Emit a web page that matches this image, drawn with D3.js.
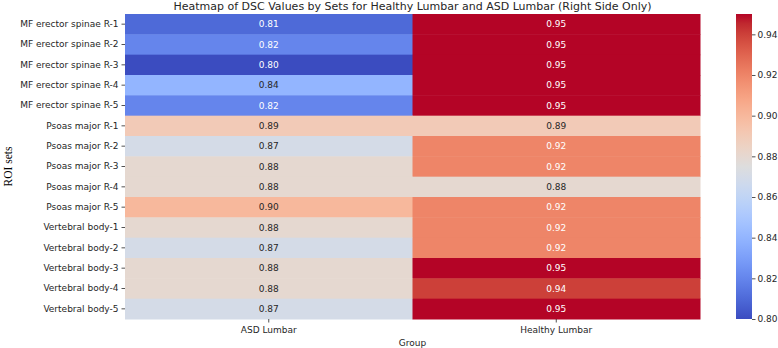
<!DOCTYPE html>
<html>
<head>
<meta charset="utf-8">
<script src="https://cdn.jsdelivr.net/npm/d3@7"></script>
<style>
  body { margin: 0; background: #fff; }
  svg text { font-family: "DejaVu Sans", sans-serif; fill: #262626; }
</style>
</head>
<body>
<div id="chart"></div>
<script>
// ---- data ----
const rowLabels = [
    "MF erector spinae R-1", "MF erector spinae R-2", "MF erector spinae R-3",
    "MF erector spinae R-4", "MF erector spinae R-5",
    "Psoas major R-1", "Psoas major R-2", "Psoas major R-3", "Psoas major R-4", "Psoas major R-5",
    "Vertebral body-1", "Vertebral body-2", "Vertebral body-3", "Vertebral body-4", "Vertebral body-5"
];
const groups = ["ASD Lumbar", "Healthy Lumbar"];
const asdValues = [0.81, 0.82, 0.80, 0.84, 0.82, 0.89, 0.87, 0.88, 0.88, 0.90, 0.88, 0.87, 0.88, 0.88, 0.87];
const healthyValues = [0.95, 0.95, 0.95, 0.95, 0.95, 0.89, 0.92, 0.92, 0.88, 0.92, 0.92, 0.92, 0.95, 0.94, 0.95];
const colorbarTicks = [0.80, 0.82, 0.84, 0.86, 0.88, 0.90, 0.92, 0.94];

// matplotlib "coolwarm" (Moreland) control points
const coolwarm = [
    [59,76,192],[68,90,204],[77,104,215],[87,117,225],[98,130,234],[108,142,241],
    [119,154,247],[130,165,251],[141,176,254],[152,185,255],[163,194,255],[174,201,253],
    [184,208,249],[194,213,244],[204,217,238],[213,219,230],[221,221,221],[229,216,209],
    [236,211,197],[241,204,185],[245,196,173],[247,187,160],[247,177,148],[247,166,135],
    [244,154,123],[241,141,111],[236,127,99],[229,112,88],[222,96,77],[213,80,66],
    [203,62,56],[192,40,47],[180,4,38]
];

const width = 778, height = 348;
const margin = {top: 14, right: 78, bottom: 29, left: 125};
const vmin = 0.80, vmax = 0.95;
const fontSize = "9px";

const cells = [];
rowLabels.forEach(function (r, i) {
    cells.push({row: r, group: groups[0], value: asdValues[i]});
    cells.push({row: r, group: groups[1], value: healthyValues[i]});
});

const svg = d3.select("#chart").append("svg")
    .attr("width", width)
    .attr("height", height);

const x = d3.scaleBand().domain(groups).range([margin.left, width - margin.right]);
const y = d3.scaleBand().domain(rowLabels).range([margin.top, height - margin.bottom]);

const t = d3.scaleLinear().domain([vmin, vmax]).range([0, 1]).clamp(true);
const cmapStops = d3.scaleLinear()
    .domain(coolwarm.map(function (d, i) { return i / (coolwarm.length - 1); }))
    .range(coolwarm.map(function (c) { return d3.rgb(c[0], c[1], c[2]); }))
    .interpolate(d3.interpolateRgb);
const color = function (v) { return cmapStops(t(v)); };

// seaborn picks annotation colour from relative luminance
function textColor(c) {
    const rgb = d3.rgb(c);
    const lin = [rgb.r, rgb.g, rgb.b].map(function (v) {
        v = v / 255;
        return v <= 0.03928 ? v / 12.92 : Math.pow((v + 0.055) / 1.055, 2.4);
    });
    const lum = 0.2126 * lin[0] + 0.7152 * lin[1] + 0.0722 * lin[2];
    return lum > 0.408 ? "#262626" : "#ffffff";
}

const g = svg.append("g");
g.selectAll("rect.cell")
    .data(cells)
    .enter().append("rect")
    .attr("class", "cell")
    .attr("x", function (d) { return x(d.group); })
    .attr("y", function (d) { return y(d.row); })
    .attr("width", x.bandwidth() + 0.5)
    .attr("height", y.bandwidth() + 0.5)
    .attr("fill", function (d) { return color(d.value); });

g.selectAll("text.annot")
    .data(cells)
    .enter().append("text")
    .attr("class", "annot")
    .attr("x", function (d) { return x(d.group) + x.bandwidth() / 2; })
    .attr("y", function (d) { return y(d.row) + y.bandwidth() / 2; })
    .attr("dy", "0.35em")
    .attr("text-anchor", "middle")
    .style("font-size", fontSize)
    .style("fill", function (d) { return textColor(color(d.value)); })
    .text(function (d) { return d3.format(".2f")(d.value); });

// axes
const yAxis = svg.append("g")
    .attr("transform", "translate(" + margin.left + ",0)")
    .call(d3.axisLeft(y).tickSize(3.5).tickPadding(3));
const xAxis = svg.append("g")
    .attr("transform", "translate(0," + (height - margin.bottom) + ")")
    .call(d3.axisBottom(x).tickSize(3.5).tickPadding(4.5));
[xAxis, yAxis].forEach(function (a) {
    a.select(".domain").remove();
    a.selectAll("line").attr("stroke", "#262626").attr("stroke-width", 0.8);
    a.selectAll("text").style("font-size", fontSize).style("fill", "#262626");
});

// colorbar
const cbX = 736, cbW = 16;
const cbScale = d3.scaleLinear().domain([vmin, vmax]).range([height - margin.bottom, margin.top]);
const defs = svg.append("defs");
const grad = defs.append("linearGradient")
    .attr("id", "cbgrad")
    .attr("x1", 0).attr("y1", 1).attr("x2", 0).attr("y2", 0);
coolwarm.forEach(function (c, i) {
    grad.append("stop")
        .attr("offset", (i / (coolwarm.length - 1) * 100) + "%")
        .attr("stop-color", d3.rgb(c[0], c[1], c[2]));
});
svg.append("rect")
    .attr("x", cbX)
    .attr("y", margin.top)
    .attr("width", cbW)
    .attr("height", height - margin.top - margin.bottom)
    .attr("fill", "url(#cbgrad)");
const cbAxis = svg.append("g")
    .attr("transform", "translate(" + (cbX + cbW) + ",0)")
    .call(d3.axisRight(cbScale).tickValues(colorbarTicks).tickFormat(d3.format(".2f")).tickSize(3.5).tickPadding(2));
cbAxis.select(".domain").remove();
cbAxis.selectAll("line").attr("stroke", "#262626").attr("stroke-width", 0.8);
cbAxis.selectAll("text").style("font-size", fontSize).style("fill", "#262626");

// titles and labels
svg.append("text")
    .attr("x", (margin.left + width - margin.right) / 2)
    .attr("y", 9.5)
    .attr("text-anchor", "middle")
    .style("font-size", "11px")
    .text("Heatmap of DSC Values by Sets for Healthy Lumbar and ASD Lumbar (Right Side Only)");

svg.append("text")
    .attr("x", (margin.left + width - margin.right) / 2)
    .attr("y", 346)
    .attr("text-anchor", "middle")
    .style("font-size", fontSize)
    .text("Group");

svg.append("text")
    .attr("transform", "translate(12," + ((margin.top + height - margin.bottom) / 2) + ") rotate(-90)")
    .attr("text-anchor", "middle")
    .style("font-family", "'Liberation Serif', 'DejaVu Serif', serif")
    .style("font-size", "11.5px")
    .style("fill", "#000")
    .text("ROI sets");
</script>
</body>
</html>
